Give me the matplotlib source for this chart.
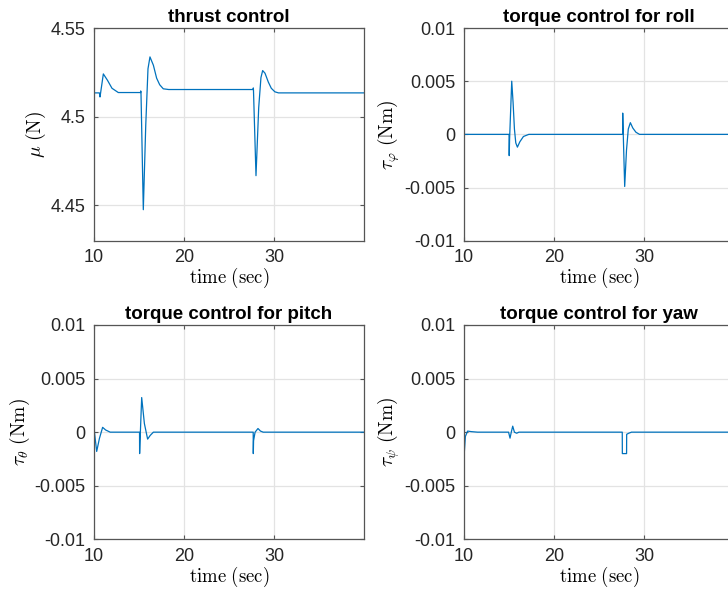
import matplotlib
matplotlib.use('Agg')
import matplotlib.pyplot as plt

plt.rcParams['font.family'] = ['Liberation Sans', 'DejaVu Sans']
plt.rcParams['mathtext.fontset'] = 'cm'

# thrust mu (N)
t_thrust = [10.0, 10.6, 10.67, 11.04, 11.5, 12.0, 12.7, 15.18, 15.19, 15.22, 15.48, 15.75,
            16.0, 16.22, 16.6, 16.96, 17.3, 17.7, 18.3, 27.69, 27.70, 27.72, 28.0, 28.3,
            28.55, 28.74, 29.0, 29.37, 29.7, 30.1, 30.5, 40.0]
mu = [4.5134, 4.5134, 4.5111, 4.5241, 4.5205, 4.5160, 4.5136, 4.5136, 4.5145, 4.5140,
      4.4475, 4.4950, 4.5270, 4.5337, 4.5290, 4.5217, 4.5180, 4.5157, 4.5153, 4.5153,
      4.5162, 4.5150, 4.4667, 4.5050, 4.5220, 4.5260, 4.5245, 4.5195, 4.5160, 4.5140,
      4.5134, 4.5134]

# roll torque tau_phi (Nm)
t_roll = [10.0, 15.0, 15.02, 15.06, 15.3, 15.45, 15.6, 15.75, 15.93, 16.2, 16.6, 17.2,
          27.62, 27.63, 27.66, 27.85, 28.05, 28.25, 28.48, 28.75, 29.1, 29.5, 40.0]
tau_roll = [0.0, 0.0, -0.002, -0.0005, 0.0050, 0.0030, 0.0005, -0.0008, -0.0012, -0.0007,
            -0.0002, 0.0, 0.0, 0.0020, 0.0010, -0.0049, -0.0015, 0.0005, 0.0011, 0.0006,
            0.0002, 0.0, 0.0]

# pitch torque tau_theta (Nm)
t_pitch = [10.0, 10.05, 10.3, 10.6, 10.96, 11.3, 11.8, 15.06, 15.07, 15.1, 15.3, 15.6,
           15.96, 16.25, 16.6, 27.69, 27.70, 27.73, 27.9, 28.22, 28.5, 28.8, 40.0]
tau_pitch = [0.0020, 0.0, -0.0018, -0.0006, 0.00045, 0.0002, 0.0, 0.0, -0.0020, -0.0012,
             0.00323, 0.0008, -0.00065, -0.0003, 0.0, 0.0, -0.0020, -0.0008, 0.0,
             0.00034, 0.0001, 0.0, 0.0]

# yaw torque tau_psi (Nm)
t_yaw = [10.0, 10.15, 10.4, 10.8, 11.5, 14.95, 15.11, 15.25, 15.41, 15.6, 15.85, 16.1,
         27.58, 27.59, 28.06, 28.07, 28.3, 28.6, 40.0]
tau_yaw = [-0.0023, -0.0004, 0.0001, 0.00005, 0.0, 0.0, -0.00056, 0.0, 0.00056, 0.0,
           -0.0001, 0.0, 0.0, -0.0020, -0.0020, -0.0002, -0.0001, 0.0, 0.0]

titles = ['thrust control', 'torque control for roll',
          'torque control for pitch', 'torque control for yaw']
ylabels = [r'$\mu\ \mathrm{(N)}$', r'$\tau_\varphi\ \mathrm{(Nm)}$',
           r'$\tau_\theta\ \mathrm{(Nm)}$', r'$\tau_\psi\ \mathrm{(Nm)}$']
series = [(t_thrust, mu), (t_roll, tau_roll), (t_pitch, tau_pitch), (t_yaw, tau_yaw)]

xticks = [10, 20, 30]
torque_ticks = [-0.01, -0.005, 0, 0.005, 0.01]
torque_labels = ['-0.01', '-0.005', '0', '0.005', '0.01']
thrust_ticks = [4.45, 4.5, 4.55]
thrust_labels = ['4.45', '4.5', '4.55']

fig = plt.figure(figsize=(7.28, 5.96), dpi=100)
positions = [[0.1291, 0.5961, 0.3709, 0.3569],
             [0.6374, 0.5961, 0.3709, 0.3569],
             [0.1291, 0.0951, 0.3709, 0.3596],
             [0.6374, 0.0951, 0.3709, 0.3596]]

for k in range(4):
    ax = fig.add_axes(positions[k])
    t, v = series[k]
    ax.plot(t, v, color='#0072BD', lw=0.9)
    ax.set_xlim(10, 40)
    ax.set_xticks(xticks)
    if k == 0:
        ax.set_ylim(4.43, 4.55)
        ax.set_yticks(thrust_ticks)
        ax.set_yticklabels(thrust_labels)
    else:
        ax.set_ylim(-0.01, 0.01)
        ax.set_yticks(torque_ticks)
        ax.set_yticklabels(torque_labels)
    ax.grid(True, color='#e3e3e3', lw=0.9)
    ax.set_axisbelow(True)
    for s in ax.spines.values():
        s.set_color('#555555')
        s.set_linewidth(0.9)
    ax.tick_params(direction='in', top=True, right=True, length=3, width=0.8,
                   color='#555555', labelsize=13, labelcolor='#262626')
    ax.tick_params(axis='x', pad=6)
    ax.tick_params(axis='y', pad=6)
    ax.set_title(titles[k], fontsize=13.5, fontweight='bold', pad=4)
    ax.set_xlabel(r'$\mathrm{time\ (sec)}$', fontsize=13.5, labelpad=0)
    ax.set_ylabel(ylabels[k], fontsize=14, labelpad=2)

plt.savefig('out.png', dpi=100)
